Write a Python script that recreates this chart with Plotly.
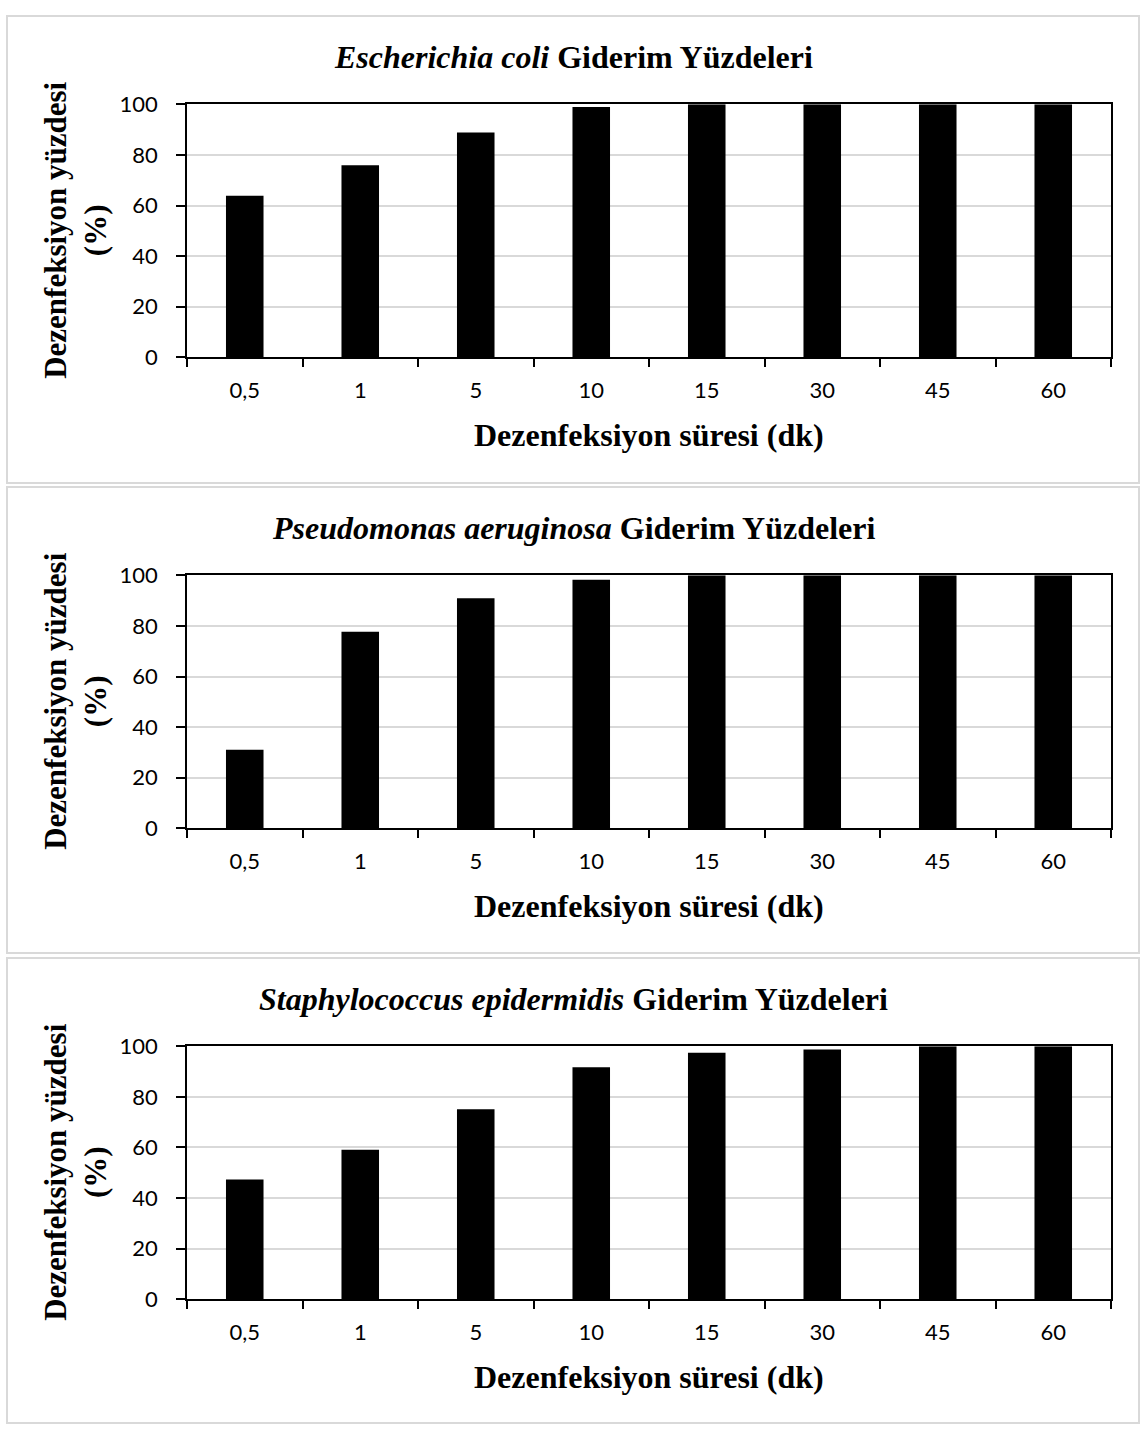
import plotly.graph_objects as go

# Disinfection times (minutes) shown as categories
times = ["0,5", "1", "5", "10", "15", "30", "45", "60"]

# Removal percentages per organism
ecoli = [63.9, 75.9, 88.8, 98.9, 100, 100, 100, 100]
paeruginosa = [31.1, 77.7, 90.9, 98.2, 100, 100, 100, 100]
sepidermidis = [47.4, 59.1, 75.1, 91.7, 97.4, 98.7, 100, 100]

titles = [
    "<i>Escherichia coli</i> Giderim Yüzdeleri",
    "<i>Pseudomonas aeruginosa</i> Giderim Yüzdeleri",
    "<i>Staphylococcus epidermidis</i> Giderim Yüzdeleri",
]
series = [ecoli, paeruginosa, sepidermidis]

y_ticks = [0, 20, 40, 60, 80, 100]
x_title = "Dezenfeksiyon süresi (dk)"
y_title = "Dezenfeksiyon yüzdesi<br>(%)"

W, H = 1142, 1437
plot_left, plot_right = 187, 1111
plot_tops = [92, 572, 1052]
plot_h = 258
panel_boxes = [(2, 478), (482, 957), (962, 1436)]

serif = "Liberation Serif, Times New Roman, serif"
sans = "Lato, Carlito, Calibri, sans-serif"


def px(v):
    return v / W


def py(v):
    return 1 - v / H


fig = go.Figure()
shapes = []
annotations = []

for i, (vals, ttl) in enumerate(zip(series, titles)):
    sfx = "" if i == 0 else str(i + 1)
    fig.add_trace(go.Bar(
        x=times, y=vals,
        xaxis="x" + sfx, yaxis="y" + sfx,
        marker=dict(color="black", line=dict(width=0)),
        width=0.325, showlegend=False,
    ))
    top = plot_tops[i]
    bottom = top + plot_h
    fig.update_layout(**{
        "xaxis" + sfx: dict(
            domain=[px(plot_left), px(plot_right)],
            anchor="y" + sfx,
            type="category",
            range=[-0.5, len(times) - 0.5],
            tickson="boundaries",
            ticks="outside", ticklen=8, tickwidth=1.5, tickcolor="black",
            showline=True, linecolor="black", linewidth=1.8, mirror=True,
            showgrid=False,
            tickfont=dict(family=sans, size=22, color="black"),
            ticklabelstandoff=12,
            fixedrange=True,
        ),
        "yaxis" + sfx: dict(
            domain=[py(bottom), py(top)],
            anchor="x" + sfx,
            range=[0, 100],
            tickvals=y_ticks,
            ticks="outside", ticklen=9, tickwidth=1.5, tickcolor="black",
            showline=True, linecolor="black", linewidth=1.8, mirror=True,
            showgrid=True, gridcolor="#d9d9d9", gridwidth=1.5,
            zeroline=False,
            tickfont=dict(family=sans, size=22, color="black"),
            ticklabelstandoff=14,
            fixedrange=True,
        ),
    })

    # panel frame
    y0, y1 = panel_boxes[i]
    shapes.append(dict(
        type="rect", xref="paper", yref="paper",
        x0=px(7), x1=px(1139), y0=py(y1), y1=py(y0),
        line=dict(color="#d9d9d9", width=2), fillcolor="rgba(0,0,0,0)",
        layer="below",
    ))

    # chart title
    annotations.append(dict(
        text="<b>" + ttl + "</b>", xref="paper", yref="paper",
        x=px(573), y=py(top - 48), xanchor="center", yanchor="middle",
        showarrow=False, font=dict(family=serif, size=32, color="black"),
    ))
    # x-axis title
    annotations.append(dict(
        text="<b>" + x_title + "</b>", xref="paper", yref="paper",
        x=px((plot_left + plot_right) / 2), y=py(bottom + 79),
        xanchor="center", yanchor="middle",
        showarrow=False, font=dict(family=serif, size=32, color="black"),
    ))
    # y-axis title
    annotations.append(dict(
        text="<b>" + y_title + "</b>", xref="paper", yref="paper",
        x=px(76), y=py(top + plot_h / 2), xanchor="center", yanchor="middle",
        textangle=-90, showarrow=False,
        font=dict(family=serif, size=31, color="black"),
    ))

fig.update_layout(
    width=W, height=H,
    margin=dict(l=0, r=0, t=0, b=0),
    paper_bgcolor="white", plot_bgcolor="white",
    bargap=0.675,
    shapes=shapes, annotations=annotations,
)

fig.write_html("out.html", config={"displayModeBar": False})
